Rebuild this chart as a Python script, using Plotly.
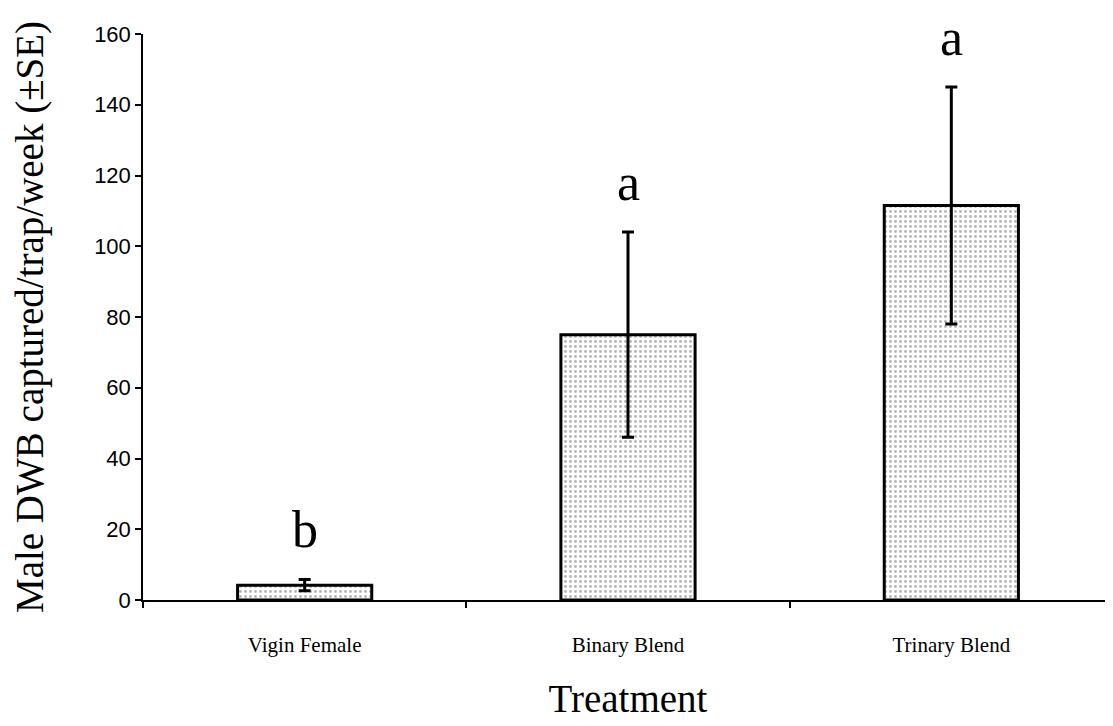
import plotly.graph_objects as go

categories = ["Vigin Female", "Binary Blend", "Trinary Blend"]
means = [4.2, 75.0, 111.5]
se = [1.6, 29.0, 33.5]
letters = ["b", "a", "a"]
y_ticks = [0, 20, 40, 60, 80, 100, 120, 140, 160]

fig = go.Figure()
fig.add_trace(go.Bar(
    x=categories, y=means, width=0.415,
    marker=dict(color="white",
                line=dict(color="black", width=3),
                pattern=dict(shape=".", fgcolor="#6e6e6e", bgcolor="white",
                             size=5, solidity=0.28)),
    error_y=dict(type="data", array=se, visible=True, color="black",
                 thickness=3, width=6),
    showlegend=False,
))

for c, m, s, l in zip(categories, means, se, letters):
    fig.add_annotation(x=c, y=m + s, text=l, showarrow=False,
                       yanchor="bottom", yshift=19,
                       font=dict(family="Liberation Serif", size=52, color="black"))

fig.update_layout(
    width=1105, height=718,
    margin=dict(l=135, r=0, t=26, b=126),
    paper_bgcolor="white", plot_bgcolor="white",
    bargap=0.5,
)
fig.update_xaxes(
    automargin=False,
    showline=True, linecolor="black", linewidth=1.5,
    ticks="outside", ticklen=6, tickcolor="black", tickwidth=1.5,
    tickson="boundaries", showgrid=False,
    tickfont=dict(family="Liberation Serif", size=21, color="black"),
    ticklabelstandoff=25,
    title=dict(text="Treatment", standoff=29,
               font=dict(family="Liberation Serif", size=39, color="black")),
)
fig.update_yaxes(
    automargin=False,
    range=[0, 160], tickvals=y_ticks,
    showline=True, linecolor="black", linewidth=1.5,
    ticks="outside", ticklen=6, tickcolor="black", tickwidth=1.5,
    showgrid=False, zeroline=False,
    tickfont=dict(family="Liberation Sans", size=22, color="black"),
    title=dict(text="Male DWB captured/trap/week (±SE)", standoff=44,
               font=dict(family="Liberation Serif", size=39, color="black")),
)

fig.write_html("out.html")
